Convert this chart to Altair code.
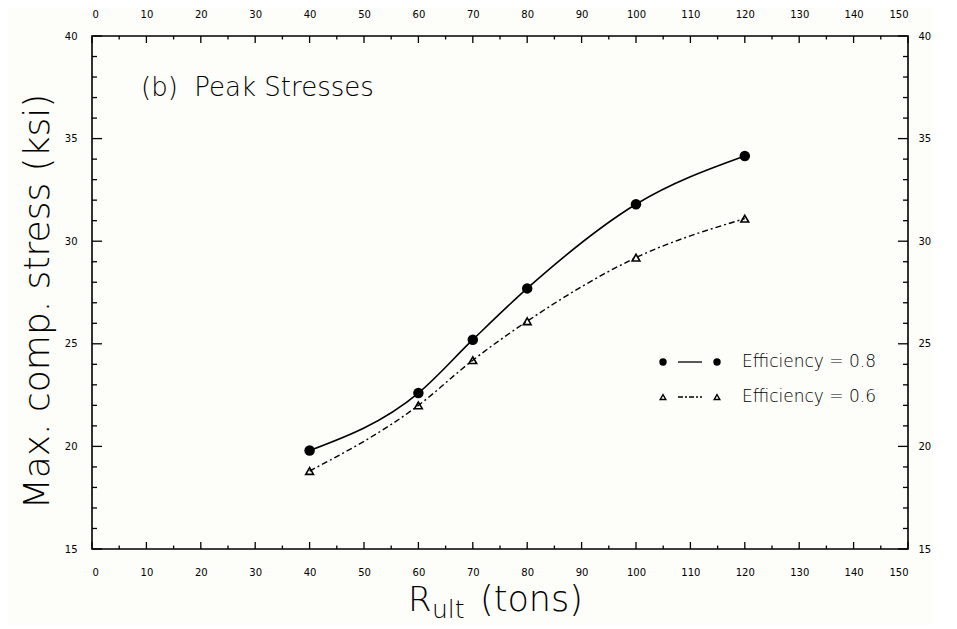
import altair as alt
import pandas as pd

# ---- data ----
r_ult = [40, 60, 70, 80, 100, 120]
stress_eff08 = [19.8, 22.6, 25.2, 27.7, 31.8, 34.15]
stress_eff06 = [18.8, 22.0, 24.2, 26.1, 29.2, 31.1]
series_labels = ["Efficiency = 0.8", "Efficiency = 0.6"]
panel_title = ["(b)\u00a0\u00a0Peak Stresses"]
x_title_parts = ["R", "ult", "(tons)"]
y_title = "Max. comp. stress (ksi)"
x_major = list(range(0, 151, 10))
x_minor = list(range(5, 150, 10))
y_major = list(range(15, 41, 5))
y_minor = [v for v in range(16, 40) if v % 5]

W, H = 816, 513
FONT = "DejaVu Sans"
TFONT = "DejaVu Sans"
TW = 200

xs = alt.Scale(domain=[0, 150], nice=False, zero=False)
ys = alt.Scale(domain=[15, 40], nice=False, zero=False)

d08 = pd.DataFrame({"x": r_ult, "y": stress_eff08})
d06 = pd.DataFrame({"x": r_ult, "y": stress_eff06})

ax_common = dict(ticks=False, domain=False, grid=False, labelFont=FONT,
                 labelFontSize=10, labelColor="black")
bottom_axis = alt.Axis(orient="bottom", values=x_major, labelPadding=18, title=None, **ax_common)
top_axis = alt.Axis(orient="top", values=x_major, labelPadding=17, title=None, **ax_common)
left_axis = alt.Axis(orient="left", values=y_major, labelPadding=15, title=y_title,
                     titleFont=TFONT, titleFontSize=36, titleFontWeight=TW, titleColor="black",
                     titleX=-44, titleY=265, titleBaseline="alphabetic", **ax_common)
right_axis = alt.Axis(orient="right", values=y_major, labelPadding=10, title=None, **ax_common)

line08 = alt.Chart(d08).mark_line(color="black", strokeWidth=1.6, interpolate="monotone").encode(
    x=alt.X("x:Q", scale=xs, axis=bottom_axis), y=alt.Y("y:Q", scale=ys, axis=left_axis))
pts08 = alt.Chart(d08).mark_point(shape="circle", filled=True, color="black", size=110, opacity=1).encode(
    x=alt.X("x:Q", scale=xs, axis=top_axis), y=alt.Y("y:Q", scale=ys, axis=right_axis))
line06 = alt.Chart(d06).mark_line(color="black", strokeWidth=1.4, strokeDash=[6, 3, 2, 3],
                                  interpolate="monotone").encode(
    x=alt.X("x:Q", scale=xs, axis=None), y=alt.Y("y:Q", scale=ys, axis=None))
pts06 = alt.Chart(d06).mark_point(shape="triangle-up", filled=False, color="black", strokeWidth=1.6,
                                  size=60, opacity=1).encode(
    x=alt.X("x:Q", scale=xs, axis=None), y=alt.Y("y:Q", scale=ys, axis=None))


def xticks(vals, y0, y1):
    return alt.Chart(pd.DataFrame({"v": vals})).mark_rule(color="black", strokeWidth=1.3).encode(
        x=alt.X("v:Q", scale=xs, axis=None), y=alt.value(y0), y2=alt.value(y1))


def yticks(vals, x0, x1):
    return alt.Chart(pd.DataFrame({"v": vals})).mark_rule(color="black", strokeWidth=1.3).encode(
        y=alt.Y("v:Q", scale=ys, axis=None), x=alt.value(x0), x2=alt.value(x1))


ticks = [
    xticks(x_major, H, H - 7), xticks(x_minor, H, H - 3.5),
    xticks(x_major, 0, 7), xticks(x_minor, 0, 3.5),
    yticks(y_major, 0, 10), yticks(y_minor, 0, 5),
    yticks(y_major, W, W - 10), yticks(y_minor, W, W - 5),
]

title_txt = alt.Chart(pd.DataFrame({"t": panel_title})).mark_text(
    align="left", baseline="middle", font=TFONT, fontSize=26, fontWeight=TW, color="black").encode(
    x=alt.value(49), y=alt.value(52), text="t:N")

xt = []
for part, px, py, fs in zip(x_title_parts, [316, 340, 388], [575, 582, 575], [34, 25, 35]):
    xt.append(alt.Chart(pd.DataFrame({"t": [part]})).mark_text(
        align="left", baseline="alphabetic", font=TFONT, fontSize=fs, fontWeight=TW, color="black").encode(
        x=alt.value(px), y=alt.value(py), text="t:N"))

legend = []
for i, lab in enumerate(series_labels):
    yy = 326 + 35 * i
    ld = pd.DataFrame({"label": [lab]})
    base = alt.Chart(ld)
    if i == 0:
        rule = base.mark_rule(color="black", strokeWidth=1.3)
        sym = dict(shape="circle", filled=True, size=55)
    else:
        rule = base.mark_rule(color="black", strokeWidth=1.3, strokeDash=[5, 2, 2, 2])
        sym = dict(shape="triangle-up", filled=False, size=32, strokeWidth=1.4)
    legend.append(rule.encode(x=alt.value(586), x2=alt.value(610), y=alt.value(yy)))
    for sx in (571, 625):
        legend.append(base.mark_point(color="black", opacity=1, **sym).encode(
            x=alt.value(sx), y=alt.value(yy)))
    legend.append(base.mark_text(align="left", baseline="middle", font=FONT, fontSize=17,
                                 fontWeight=TW, color="black").encode(
        x=alt.value(650), y=alt.value(yy), text="label:N"))

chart = alt.layer(line08, pts08, line06, pts06, *ticks, title_txt, *xt, *legend).resolve_axis(
    x="independent", y="independent"
).properties(
    width=W, height=H,
    autosize=alt.AutoSizeParams(type="none"),
    padding={"left": 84, "top": 28, "right": 25, "bottom": 76},
    background="#fdfdf9",
).configure_view(stroke="black", strokeWidth=1.6)

chart.save("out.html", embed_options={"renderer": "svg", "actions": False})
